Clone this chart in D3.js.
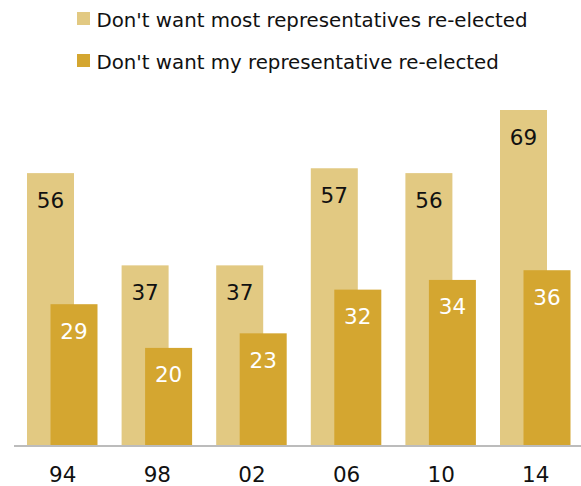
<!DOCTYPE html>
<html>
<head>
<meta charset="utf-8">
<script src="https://cdn.jsdelivr.net/npm/d3@7"></script>
<style>
  html, body { margin: 0; padding: 0; background: #fff; }
  svg { display: block; }
  text { font-family: "DejaVu Sans", "Liberation Sans", Arial, sans-serif; }
</style>
</head>
<body>
<svg id="chart" width="581" height="486"></svg>
<script>
const categories = ["94", "98", "02", "06", "10", "14"];
const mostValues = [56, 37, 37, 57, 56, 69];
const myValues = [29, 20, 23, 32, 34, 36];
const seriesNames = ["Don't want most representatives re-elected", "Don't want my representative re-elected"];
const seriesColors = ["#e2c982", "#d4a630"];

const svg = d3.select("#chart");
const W = 581, H = 486;
const baseY = 445;

const x = d3.scaleBand().domain(categories).range([27, 27 + 6 * 94.6]).paddingInner(0).paddingOuter(0);
const y = d3.scaleLinear().domain([0, 69]).range([baseY, 110]);
const barW = 47;
const offset = 23.5;

// light bars
svg.append("g").selectAll("rect").data(categories).join("rect")
  .attr("x", d => x(d))
  .attr("y", (d, i) => y(mostValues[i]))
  .attr("width", barW)
  .attr("height", (d, i) => baseY - y(mostValues[i]))
  .attr("fill", seriesColors[0]);

// dark bars
svg.append("g").selectAll("rect").data(categories).join("rect")
  .attr("x", d => x(d) + offset)
  .attr("y", (d, i) => y(myValues[i]))
  .attr("width", barW)
  .attr("height", (d, i) => baseY - y(myValues[i]))
  .attr("fill", seriesColors[1]);

// value labels
svg.append("g").selectAll("text").data(categories).join("text")
  .attr("x", d => x(d) + barW / 2)
  .attr("y", (d, i) => y(mostValues[i]) + 34.5)
  .attr("text-anchor", "middle")
  .attr("font-size", 21.5)
  .attr("fill", "#111")
  .text((d, i) => mostValues[i]);

svg.append("g").selectAll("text").data(categories).join("text")
  .attr("x", d => x(d) + offset + barW / 2)
  .attr("y", (d, i) => y(myValues[i]) + 34.5)
  .attr("text-anchor", "middle")
  .attr("font-size", 21.5)
  .attr("fill", "#fff")
  .text((d, i) => myValues[i]);

// axis line
svg.append("line")
  .attr("x1", 14).attr("x2", W)
  .attr("y1", 446).attr("y2", 446)
  .attr("stroke", "#a6a6a6").attr("stroke-width", 1.5);

// x axis tick labels
const xAxis = d3.axisBottom(d3.scalePoint().domain(categories).range([x(categories[0]) + 35.25, x(categories[5]) + 35.25]))
  .tickSize(0).tickPadding(0);
const ax = svg.append("g").attr("transform", "translate(0,482)").call(xAxis);
ax.select(".domain").remove();
ax.selectAll("text")
  .attr("dy", 0)
  .attr("y", 0)
  .attr("font-size", 21.5)
  .attr("font-family", "DejaVu Sans, Liberation Sans, Arial, sans-serif")
  .attr("fill", "#111");

// legend
const legend = svg.append("g");
const legendY = [12, 54];
seriesNames.forEach((name, i) => {
  legend.append("rect")
    .attr("x", 77).attr("y", legendY[i])
    .attr("width", 13).attr("height", 13)
    .attr("fill", seriesColors[i]);
  legend.append("text")
    .attr("x", 96.5).attr("y", legendY[i] + 14.6)
    .attr("font-size", 19.8)
    .attr("fill", "#111")
    .text(name);
});
</script>
</body>
</html>
